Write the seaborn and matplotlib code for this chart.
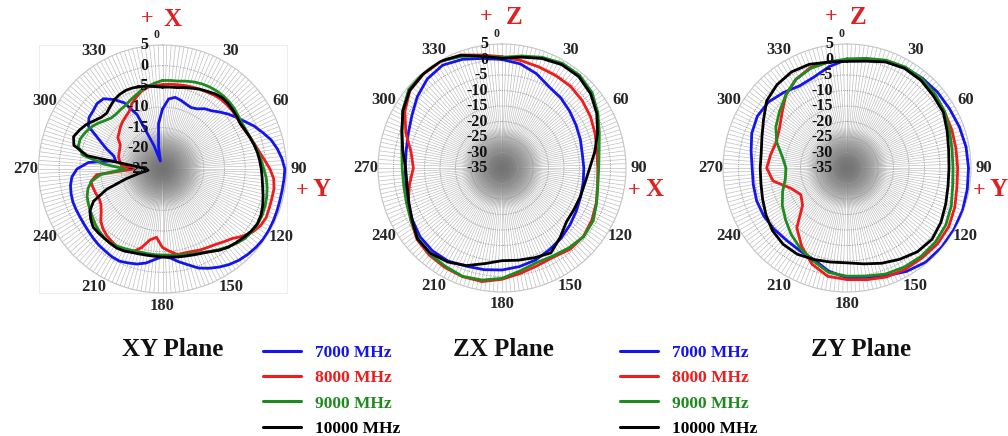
import numpy as np
import pandas as pd
import matplotlib
matplotlib.use("Agg")
import matplotlib.pyplot as plt
from matplotlib.lines import Line2D
from matplotlib.patches import Rectangle
import seaborn as sns

# ---------------- data (dB) ----------------
freq_labels = ["7000 MHz", "8000 MHz", "9000 MHz", "10000 MHz"]
line_colors = ["#1414ee", "#ee1c1c", "#1f8a1f", "#000000"]

angles_xy = list(range(0, 360, 5))
angles_zx = list(range(0, 360, 10))
angles_zy = list(range(0, 360, 10))

xy_7000 = [-10.5, -8.0, -7.4, -7.8, -8.3, -8.6, -8.2, -7.2, -6.6, -5.5, -4.3, -3.2,
           -2.0, -0.5, 0.8, 2.2, 3.2, 4.0, 4.6, 4.5, 4.4, 4.4, 4.5, 4.6,
           4.7, 4.7, 4.5, 4.2, 3.8, 3.2, 2.4, 1.5, 0.5, -1.0, -2.2, -3.4,
           -3.8, -3.0, -1.9, -1.2, -0.8, -0.4, -0.5, -0.8, -1.0, -1.3, -1.6, -1.8,
           -1.9, -1.9, -1.9, -2.1, -2.4, -3.0, -4.3, -7.0, -13.5, -12.8, -10.5, -8.0,
           -4.3, -3.3, -3.1, -2.6, -2.8, -4.5, -6.5, -10.5, -19.0, -23.0, -19.5, -14.0]
xy_8000 = [-4.6, -4.4, -4.3, -4.1, -3.9, -3.7, -3.5, -3.2, -3.0, -3.0, -3.0, -3.1,
           -3.2, -3.0, -2.5, -1.9, -1.2, -0.2, 1.0, 2.0, 2.4, 2.4, 2.5, 2.7,
           2.4, 1.6, 0.3, -1.2, -2.0, -2.7, -3.1, -3.4, -3.8, -4.0, -4.0, -5.0,
           -6.0, -8.4, -7.6, -5.3, -3.6, -3.2, -3.2, -3.6, -4.0, -4.6, -5.5, -6.9,
           -7.8, -8.1, -7.8, -7.6, -7.4, -9.0, -18.0, -15.0, -14.5, -14.0, -13.8, -13.6,
           -13.2, -11.8, -11.3, -10.6, -10.0, -9.5, -8.9, -7.5, -6.5, -5.5, -4.9, -4.7]
xy_9000 = [-3.6, -3.5, -3.4, -3.0, -2.6, -2.3, -2.1, -2.0, -2.0, -2.1, -2.3, -2.6,
           -2.8, -2.7, -2.5, -2.0, -1.5, -1.0, -0.5, 0.2, 0.7, 1.1, 1.4, 1.6,
           1.6, 1.4, 1.1, 0.4, -0.4, -1.2, -2.0, -2.7, -3.2, -3.6, -3.8, -4.1,
           -4.2, -4.2, -4.2, -4.2, -4.0, -3.7, -3.4, -3.1, -3.2, -3.5, -3.9, -4.4,
           -4.8, -5.2, -5.6, -6.3, -7.5, -10.0, -16.0, -10.5, -5.4, -3.9, -3.8, -4.3,
           -4.9, -5.8, -6.8, -7.5, -7.6, -7.4, -7.2, -6.6, -6.0, -5.3, -4.7, -4.1]
xy_10000 = [-5.2, -5.1, -5.0, -4.6, -4.2, -3.7, -3.3, -2.8, -2.5, -2.6, -2.8, -3.0,
            -3.2, -2.9, -2.5, -2.1, -1.7, -1.4, -1.1, -0.8, -0.4, 0.2, 0.8, 1.3,
            1.5, 1.2, 0.7, 0.2, -0.3, -1.0, -1.9, -2.5, -2.9, -3.2, -3.4, -3.6,
            -3.7, -3.8, -3.8, -3.7, -3.5, -3.1, -2.9, -3.0, -3.1, -3.1, -3.1, -3.8,
            -4.7, -6.6, -10.6, -15.9, -19.5, -21.5, -21.0, -19.0, -6.5, -2.8, -2.1, -2.8,
            -3.6, -4.7, -5.6, -5.9, -5.3, -4.6, -4.2, -4.0, -4.1, -4.4, -4.6, -5.0]

zx_7000 = [0.0, -0.9, -2.6, -4.7, -5.5, -6.5, -7.4, -8.1, -8.7, -8.6, -8.4, -8.0,
           -7.3, -6.4, -5.4, -4.5, -3.4, -2.7, -2.1, -1.7, -1.3, -0.3, -0.1, -0.5,
           -1.6, -2.7, -3.5, -3.8, -3.6, -2.8, -1.4, 0.7, 2.5, 3.3, 2.3, 0.9]
zx_8000 = [0.9, 0.2, -0.3, -0.5, -0.6, -1.2, -2.0, -3.0, -3.9, -4.1, -3.7, -2.6,
           -1.5, -0.7, -0.8, -1.8, -1.5, -0.5, 0.9, 2.2, 2.3, 2.0, 1.6, 0.8,
           -1.1, -2.8, -4.7, -6.4, -5.2, -2.0, 1.2, 3.8, 4.5, 4.6, 3.8, 2.0]
zx_9000 = [0.7, 1.7, 3.0, 4.0, 4.0, 2.9, 0.7, -1.6, -3.2, -3.8, -3.6, -2.5,
           -1.0, -0.6, -1.4, -2.2, -2.5, -1.3, 0.6, 1.7, 2.2, 1.6, 1.2, 0.4,
           -1.1, -2.2, -2.8, -2.8, -2.2, -0.7, 2.0, 4.3, 4.8, 4.8, 3.3, 1.6]
zx_10000 = [0.4, 1.3, 2.6, 3.5, 3.5, 2.3, 0.3, -2.2, -4.6, -6.7, -7.8, -8.1,
            -8.2, -7.9, -5.8, -3.4, -4.2, -4.8, -5.1, -3.7, -1.5, 0.0, 0.9, 0.6,
            -1.5, -3.0, -3.9, -3.9, -2.5, -0.6, 1.9, 3.9, 4.6, 4.8, 3.7, 1.6]

zy_7000 = [0.0, 0.7, 1.8, 2.4, 2.8, 3.1, 3.2, 3.6, 4.0, 4.2, 4.4, 4.7,
           4.8, 4.8, 4.6, 3.5, 2.0, 0.8, 0.4, -1.2, -3.6, -4.3, -4.6, -4.3,
           -4.0, -4.0, -4.3, -4.4, -3.6, -2.3, -1.6, -1.9, -3.2, -4.4, -3.8, -1.8]
zy_8000 = [-0.3, 0.6, 1.8, 2.3, 2.2, 1.8, 1.3, 1.0, 0.7, 0.7, 1.0, 2.0,
           2.9, 3.1, 2.8, 2.7, 2.4, 1.6, 1.0, 0.5, -2.0, -5.8, -9.8, -16.3,
           -17.8, -15.8, -10.8, -9.1, -10.0, -10.7, -9.8, -7.6, -4.3, -2.0, -0.5, -0.3]
zy_9000 = [0.2, 0.9, 2.0, 2.6, 2.6, 2.1, 1.4, 0.2, -0.6, -0.8, -0.4, 0.8,
           1.8, 2.2, 2.2, 1.9, 1.4, 0.4, -0.1, -0.8, -3.1, -5.0, -7.0, -9.1,
           -10.9, -12.9, -14.8, -15.3, -13.8, -10.9, -8.5, -6.6, -4.3, -2.0, -0.8, -0.3]
zy_10000 = [-0.6, 0.0, 1.4, 2.1, 2.0, 1.3, 0.9, -0.6, -1.7, -2.1, -1.9, -1.1,
            0.0, 0.8, 0.3, -1.0, -2.3, -3.6, -4.4, -4.2, -3.6, -2.9, -2.9, -3.6,
            -4.8, -6.0, -6.8, -7.0, -6.9, -5.8, -3.9, -1.2, 0.1, 0.8, 0.6, -0.3]

xy_rticks = [5, 0, -5, -10, -15, -20, -25]
zx_rticks = [5, 0, -5, -10, -15, -20, -25, -30, -35]
zy_rticks = [5, 0, -5, -10, -15, -20, -25, -30, -35]
angle_ticks = [0, 30, 60, 90, 120, 150, 180, 210, 240, 270, 300, 330]
plane_titles = ["XY Plane", "ZX Plane", "ZY Plane"]

# ---------------- style ----------------
sns.set_theme(style="white")
plt.rcParams["font.family"] = ["Liberation Serif", "DejaVu Serif"]
plt.rcParams["font.weight"] = "bold"

W, H = 1008, 436
R_PX = 124
fig = plt.figure(figsize=(W / 100, H / 100), dpi=100)
fig.patch.set_facecolor("white")


def add_polar(cx, cy, R):
    return fig.add_axes([(cx - R) / W, (H - cy - R) / H, 2 * R / W, 2 * R / H],
                        projection="polar")


def style_polar(ax, rmin, rmax, rticks):
    ax.set_theta_zero_location("N")
    ax.set_theta_direction(-1)
    ax.set_ylim(rmin, rmax)
    ax.grid(False)
    ax.set_xticks([])
    ax.set_yticks([])
    ax.set_facecolor("white")
    ax.spines["polar"].set_color("#c4c4c4")
    ax.spines["polar"].set_linewidth(0.8)
    per_px = (rmax - rmin) / R_PX
    th = np.linspace(0, 2 * np.pi, 361)
    # dense radial hatch lines
    for a in np.arange(0, 360, 2):
        t = np.deg2rad(a)
        ax.plot([t, t], [rmin, rmax], color="#bababa", lw=0.45, zorder=1)
    # soft grey centre
    n = 22
    for i in range(n):
        rad_px = 40 * (n - i) / n
        ax.fill(th, np.full_like(th, rmin + rad_px * per_px), color="#5a5a5a",
                alpha=0.05, lw=0, zorder=1.5)
    # concentric circles
    for r in rticks[1:]:
        ax.plot(th, np.full_like(th, r), color="#9a9a9a", lw=0.7,
                ls=(0, (1, 1.3)), zorder=2)
    # radial labels
    for r in rticks:
        ax.annotate(str(r), xy=(0, r), xytext=(-10, 0), textcoords="offset points",
                    ha="right", va="center", fontsize=11.5, fontweight="bold",
                    color="#111111", zorder=5, annotation_clip=False)
    # angle labels
    rlab = rmax + per_px * 12.5
    for a in angle_ticks:
        if a == 0:
            ax.text(np.deg2rad(-2.5), rmax + per_px * 10, "0", ha="center", va="center",
                    fontsize=8.5, fontweight="bold", clip_on=False)
        else:
            ax.text(np.deg2rad(a), rlab, str(a), ha="center", va="center",
                    fontsize=12, fontweight="bold", clip_on=False)


def draw_series(ax, angles, series_list):
    for vals, col in zip(series_list, line_colors):
        ang = list(angles) + [angles[0] + 360]
        v = list(vals) + [vals[0]]
        df = pd.DataFrame({"theta": np.deg2rad(ang), "r": v})
        sns.lineplot(data=df, x="theta", y="r", ax=ax, color=col, lw=2.0,
                     sort=False, estimator=None, legend=False, zorder=4)
    ax.set_xlabel("")
    ax.set_ylabel("")


# faint frame around the XY panel
fig.add_artist(Rectangle(((162.5 - R_PX) / W, (H - 169 - R_PX) / H), 2 * R_PX / W, 2 * R_PX / H,
                         transform=fig.transFigure, fill=False, ec="#ededed", lw=0.8, zorder=0))

ax1 = add_polar(162.5, 169, R_PX)
style_polar(ax1, -25, 5, xy_rticks)
draw_series(ax1, angles_xy, [xy_7000, xy_8000, xy_9000, xy_10000])

ax2 = add_polar(502, 168, R_PX)
style_polar(ax2, -35, 5, zx_rticks)
draw_series(ax2, angles_zx, [zx_7000, zx_8000, zx_9000, zx_10000])

ax3 = add_polar(847, 168, R_PX)
style_polar(ax3, -35, 5, zy_rticks)
draw_series(ax3, angles_zy, [zy_7000, zy_8000, zy_9000, zy_10000])

for a in (ax1, ax2, ax3):
    a.set_xticks([])
    a.set_yticks([])


def ftext(x, y, s, **kw):
    fig.text(x / W, 1 - y / H, s, **kw)


red = "#e02020"
marks = [
    (147, 19, "+", 16), (173, 19, "X", 18), (302, 191, "+", 16), (322, 190, "Y", 18),
    (486, 17, "+", 16), (514, 17, "Z", 18), (634, 191, "+", 16), (654, 190, "X", 18),
    (831, 17, "+", 16), (858, 17, "Z", 18), (979, 191, "+", 16), (999, 190, "Y", 18),
]
for x, y, s, fs in marks:
    ftext(x, y, s, fontsize=fs, color=red, fontweight="bold", ha="center", va="center")

# plane titles
for (x, t) in zip([173, 503, 861], plane_titles):
    ftext(x, 350, t, fontsize=18, fontweight="bold", ha="center", va="center", color="#111111")

# legends
handles = [Line2D([0], [0], color=c, lw=2.2) for c in line_colors]
for x0 in (263, 620):
    leg = fig.legend(handles, freq_labels, loc="upper left",
                     bbox_to_anchor=(x0 / W, 1 - 345 / H), frameon=False,
                     fontsize=12.5, handlelength=2.2, handletextpad=0.8,
                     labelspacing=0.52, borderaxespad=0, borderpad=0)
    for txt, c in zip(leg.get_texts(), line_colors):
        txt.set_color(c)
        txt.set_fontweight("bold")

fig.savefig("out.png", dpi=100, facecolor="white")
